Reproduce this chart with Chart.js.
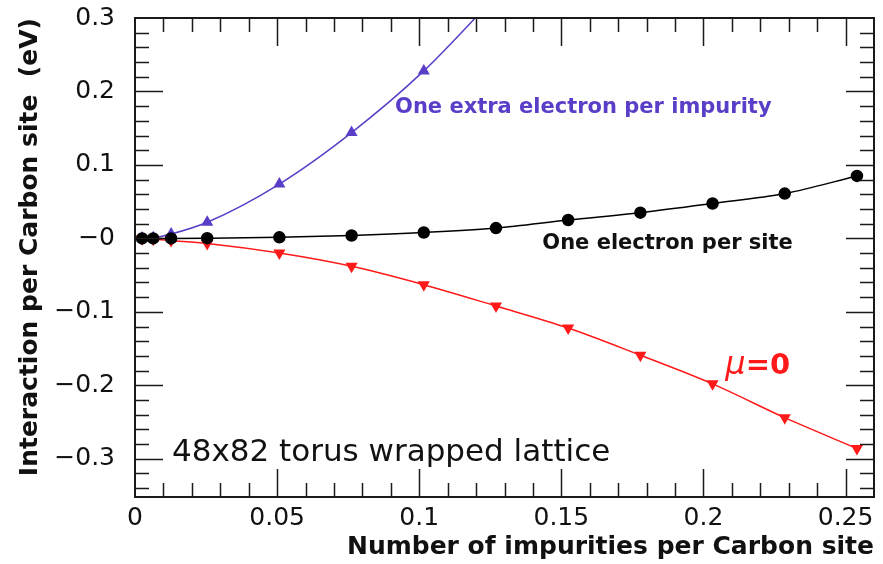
<!DOCTYPE html>
<html>
<head>
<meta charset="utf-8">
<script src="https://cdn.jsdelivr.net/npm/chart.js@4.4.1/dist/chart.umd.min.js"></script>
<style>
    body { margin: 0; background: #fff; }
    #wrap { width: 883px; height: 564px; position: relative; }
</style>
</head>
<body>
<div id="wrap"><canvas id="torusChart"></canvas></div>
<script>
// impurity concentration (impurities per carbon site)
const impurities = [0.0025, 0.0064, 0.0127, 0.0254, 0.0508, 0.0762, 0.1016, 0.127, 0.1524, 0.1778, 0.2032, 0.2286, 0.254];

// interaction per carbon site (eV)
const oneElectronPerSite = [0, 0, 0, 0.0003, 0.0015, 0.004, 0.008, 0.014, 0.025, 0.035, 0.0475, 0.061, 0.085];
const muZero = [-0.0005, -0.001, -0.003, -0.007, -0.02, -0.038, -0.063, -0.092, -0.122, -0.159, -0.198, -0.244, -0.286];
const extraElectron = [0.0005, 0.001, 0.006, 0.022, 0.074, 0.144, 0.228, 0.33];

const xTickLabels = ['0', '0.05', '0.1', '0.15', '0.2', '0.25'];
const xTickValues = [0, 0.05, 0.1, 0.15, 0.2, 0.25];
const yTickLabels = ['0.3', '0.2', '0.1', '\u22120', '\u22120.1', '\u22120.2', '\u22120.3'];
const yTickValues = [0.3, 0.2, 0.1, 0, -0.1, -0.2, -0.3];

const BLUE = '#5a3ec8';
const RED = '#ff1a1a';

function points(ys) {
    return ys.map((v, i) => ({ x: impurities[i], y: v }));
}

// frame with inward ticks on all four sides
const frameTicks = {
    id: 'frameTicks',
    afterDatasetsDraw(chart) {
        const { ctx, chartArea: a, scales: { x, y } } = chart;
        ctx.save();
        ctx.strokeStyle = '#1a1a1a';
        ctx.lineWidth = 1.5;
        ctx.beginPath();
        for (let i = 1; i < 26; i++) {
            const px = Math.round(x.getPixelForValue(i / 100)) + 0.5;
            const len = i % 5 === 0 ? 28 : 14;
            ctx.moveTo(px, a.bottom); ctx.lineTo(px, a.bottom - len);
            ctx.moveTo(px, a.top); ctx.lineTo(px, a.top + len);
        }
        for (let i = -17; i <= 14; i++) {
            const py = Math.round(y.getPixelForValue(i * 0.02)) + 0.5;
            const len = i % 5 === 0 ? 28 : 14;
            ctx.moveTo(a.left, py); ctx.lineTo(a.left + len, py);
            ctx.moveTo(a.right, py); ctx.lineTo(a.right - len, py);
        }
        ctx.stroke();
        ctx.lineWidth = 2;
        ctx.strokeRect(a.left, a.top, a.right - a.left, a.bottom - a.top);
        ctx.restore();
    }
};

// curve labels, anchored in data space
const curveLabels = {
    id: 'curveLabels',
    afterDraw(chart) {
        const { ctx, scales: { x, y } } = chart;
        ctx.save();
        ctx.textBaseline = 'alphabetic';
        ctx.textAlign = 'left';

        ctx.fillStyle = BLUE;
        ctx.font = 'bold 21px "DejaVu Sans"';
        ctx.fillText('One extra electron per impurity', x.getPixelForValue(0.0915), y.getPixelForValue(0.171));

        ctx.fillStyle = '#111';
        ctx.fillText('One electron per site', x.getPixelForValue(0.1433), y.getPixelForValue(-0.015));

        ctx.fillStyle = RED;
        const mx = x.getPixelForValue(0.2077), my = y.getPixelForValue(-0.184);
        ctx.font = 'italic 32px "DejaVu Sans"';
        ctx.fillText('\u03bc', mx, my);
        const w = ctx.measureText('\u03bc').width;
        ctx.font = 'bold 29px "DejaVu Sans"';
        ctx.fillText('=0', mx + w, my);

        ctx.fillStyle = '#111';
        ctx.font = '31px "DejaVu Sans"';
        ctx.fillText('48x82 torus wrapped lattice', x.getPixelForValue(0.013), y.getPixelForValue(-0.303));
        ctx.restore();
    }
};

const tickFont = { family: '"DejaVu Sans"', size: 25 };
const titleFont = { family: '"DejaVu Sans"', size: 25, weight: 'bold' };

new Chart(document.getElementById('torusChart'), {
    type: 'line',
    data: {
        datasets: [
            {
                label: 'One electron per site',
                data: points(oneElectronPerSite),
                borderColor: '#000',
                backgroundColor: '#000',
                borderWidth: 1.5,
                pointStyle: 'circle',
                pointRadius: 5.5,
                cubicInterpolationMode: 'monotone'
            },
            {
                label: 'mu=0',
                data: points(muZero),
                borderColor: RED,
                backgroundColor: RED,
                borderWidth: 1.5,
                pointStyle: 'triangle',
                rotation: 180,
                pointRadius: 5.5,
                cubicInterpolationMode: 'monotone'
            },
            {
                label: 'One extra electron per impurity',
                data: points(extraElectron),
                borderColor: BLUE,
                backgroundColor: BLUE,
                borderWidth: 1.5,
                pointStyle: 'triangle',
                pointRadius: 5.5,
                cubicInterpolationMode: 'monotone'
            }
        ]
    },
    options: {
        responsive: true,
        maintainAspectRatio: false,
        animation: false,
        layout: { padding: { top: 18, right: 9, left: 0, bottom: 0 } },
        plugins: {
            legend: { display: false },
            tooltip: { enabled: false }
        },
        scales: {
            x: {
                type: 'linear',
                min: 0,
                max: 0.26,
                grid: { display: false, drawTicks: false },
                border: { display: false },
                afterBuildTicks: s => { s.ticks = xTickValues.map(v => ({ value: v })); },
                afterFit: s => { s.height = 67; s.paddingLeft = 0; s.paddingRight = 0; },
                ticks: {
                    color: '#111',
                    font: tickFont,
                    padding: 6,
                    maxRotation: 0,
                    callback: (v, i) => xTickLabels[i]
                },
                title: {
                    display: true,
                    text: 'Number of impurities per Carbon site',
                    align: 'end',
                    color: '#111',
                    font: titleFont,
                    padding: { top: 0, bottom: 2 }
                }
            },
            y: {
                type: 'linear',
                min: -0.352,
                max: 0.3,
                grid: { display: false, drawTicks: false },
                border: { display: false },
                afterBuildTicks: s => { s.ticks = yTickValues.map(v => ({ value: v })); },
                afterFit: s => { s.width = 135; s.paddingTop = 0; s.paddingBottom = 0; },
                ticks: {
                    color: '#111',
                    font: tickFont,
                    padding: 20,
                    callback: (v, i) => yTickLabels[i]
                },
                title: {
                    display: true,
                    text: 'Interaction per Carbon site  (eV)',
                    align: 'end',
                    color: '#111',
                    font: titleFont,
                    padding: { top: 15, bottom: 0 }
                }
            }
        }
    },
    plugins: [frameTicks, curveLabels]
});
</script>
</body>
</html>
